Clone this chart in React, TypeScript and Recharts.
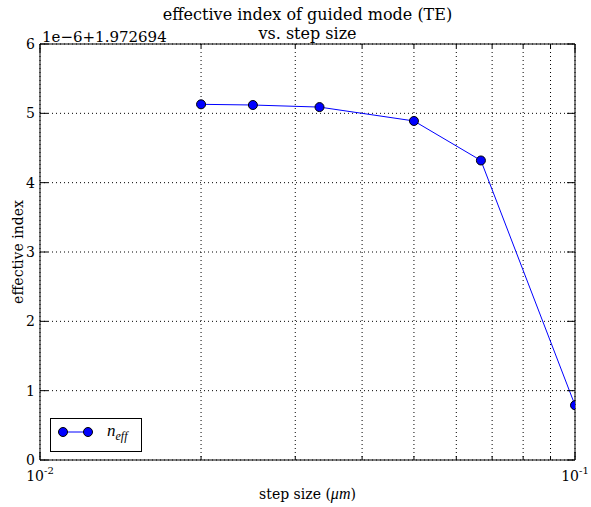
import React from "react";
import { LineChart, Line, XAxis, YAxis, CartesianGrid } from "recharts";

// step sizes (µm) and effective index, stored relative to the 1.972694 offset in units of 1e-6
const stepSizes = [0.02, 0.025, 0.0333, 0.05, 0.0667, 0.1];
const neffOffset = [5.13, 5.12, 5.09, 4.89, 4.32, 0.79];

const xTicks = [0.01, 0.02, 0.03, 0.04, 0.05, 0.06, 0.07, 0.08, 0.09, 0.1];
const yTicks = [0, 1, 2, 3, 4, 5, 6];

const data = stepSizes.map((s, i) => ({ step: s, neff: neffOffset[i] }));

const FONT = "'DejaVu Serif', serif";
const MATH = "'Liberation Serif', serif";
const W = 591;
const H = 507;

const isDecade = (v: number) => {
  const l = Math.log10(v);
  return Math.abs(l - Math.round(l)) < 1e-6;
};

const BottomTick = ({ x, y, payload }: any) => {
  const v = payload.value;
  const major = isDecade(v);
  return (
    <g>
      <line x1={x} x2={x} y1={y} y2={y - (major ? 8 : 4)} stroke="#000" />
      {major && (
        <text x={x} y={y + 21} textAnchor="middle" fontFamily={FONT} fontSize={14} fill="#000">
          10
          <tspan dy={-7} fontSize={10}>
            {Math.round(Math.log10(v))}
          </tspan>
        </text>
      )}
    </g>
  );
};

const TopTick = ({ x, y, payload }: any) => {
  const major = isDecade(payload.value);
  return <line x1={x} x2={x} y1={y} y2={y + (major ? 8 : 4)} stroke="#000" />;
};

const LeftTick = ({ x, y, payload }: any) => (
  <g>
    <line x1={x} x2={x + 8} y1={y} y2={y} stroke="#000" />
    <text x={x - 5} y={y + 5} textAnchor="end" fontFamily={FONT} fontSize={14} fill="#000">
      {payload.value}
    </text>
  </g>
);

const RightTick = ({ x, y }: any) => <line x1={x} x2={x - 8} y1={y} y2={y} stroke="#000" />;

const Dot = (props: any) => {
  const { cx, cy } = props;
  if (cx == null || cy == null) return null;
  return <circle cx={cx} cy={cy} r={4.5} fill="#0000ff" stroke="#000" strokeWidth={1} />;
};

export default function App() {
  return (
    <div style={{ position: "absolute", left: 0, top: 0, width: W, height: H, background: "#fff", fontFamily: FONT }}>
      <LineChart width={W} height={H} data={data} margin={{ top: 0, right: 0, bottom: 0, left: 0 }}>
        <CartesianGrid
          xAxisId="bottom"
          yAxisId="left"
          stroke="#000"
          strokeDasharray="1 3"
          strokeWidth={1}
        />
        <XAxis
          xAxisId="bottom"
          dataKey="step"
          type="number"
          scale="log"
          domain={[0.01, 0.1]}
          ticks={xTicks}
          allowDataOverflow
          height={47}
          tickSize={0}
          tickMargin={0}
          tick={<BottomTick />}
          axisLine={{ stroke: "#000" }}
          tickLine={false}
          interval={0}
        />
        <XAxis
          xAxisId="top"
          orientation="top"
          dataKey="step"
          type="number"
          scale="log"
          domain={[0.01, 0.1]}
          ticks={xTicks}
          allowDataOverflow
          height={44}
          tickSize={0}
          tickMargin={0}
          tick={<TopTick />}
          axisLine={{ stroke: "#000" }}
          tickLine={false}
          interval={0}
        />
        <YAxis
          yAxisId="left"
          type="number"
          domain={[0, 6]}
          ticks={yTicks}
          allowDataOverflow
          width={40}
          tickSize={0}
          tickMargin={0}
          tick={<LeftTick />}
          axisLine={{ stroke: "#000" }}
          tickLine={false}
          interval={0}
        />
        <YAxis
          yAxisId="right"
          orientation="right"
          type="number"
          domain={[0, 6]}
          ticks={yTicks}
          allowDataOverflow
          width={16}
          tickSize={0}
          tickMargin={0}
          tick={<RightTick />}
          axisLine={{ stroke: "#000" }}
          tickLine={false}
          interval={0}
        />
        <Line
          xAxisId="bottom"
          yAxisId="left"
          dataKey="neff"
          stroke="#0000ff"
          strokeWidth={1}
          dot={<Dot />}
          activeDot={false}
          isAnimationActive={false}
        />
      </LineChart>

      <div style={{ position: "absolute", left: 0, width: 615, top: 5, textAlign: "center", fontSize: 16, lineHeight: "19px", color: "#000" }}>
        effective index of guided mode (TE)
        <br />
        vs. step size
      </div>
      <div style={{ position: "absolute", left: 42, top: 28, fontSize: 15, color: "#000" }}>1e−6+1.972694</div>
      <div style={{ position: "absolute", left: 0, width: 615, top: 485, textAlign: "center", fontSize: 14, color: "#000" }}>
        step size (<i style={{ fontFamily: MATH, fontSize: 16 }}>μm</i>)
      </div>
      <div
        style={{
          position: "absolute",
          left: 18,
          top: 252,
          transform: "translate(-50%, -50%) rotate(-90deg)",
          whiteSpace: "nowrap",
          fontSize: 14,
          color: "#000",
        }}
      >
        effective index
      </div>
      <div
        style={{
          position: "absolute",
          left: 50,
          top: 418,
          width: 90,
          height: 32,
          border: "1px solid #000",
          background: "#fff",
        }}
      >
        <svg width={40} height={32} style={{ position: "absolute", left: 6, top: 0 }}>
          <line x1={6} x2={31} y1={13} y2={13} stroke="#0000ff" />
          <circle cx={6} cy={13} r={4.5} fill="#0000ff" stroke="#000" />
          <circle cx={31} cy={13} r={4.5} fill="#0000ff" stroke="#000" />
        </svg>
        <span style={{ position: "absolute", left: 56, top: 2, fontSize: 17, fontStyle: "italic", fontFamily: MATH }}>
          n<sub style={{ fontSize: 12 }}>eff</sub>
        </span>
      </div>
    </div>
  );
}
